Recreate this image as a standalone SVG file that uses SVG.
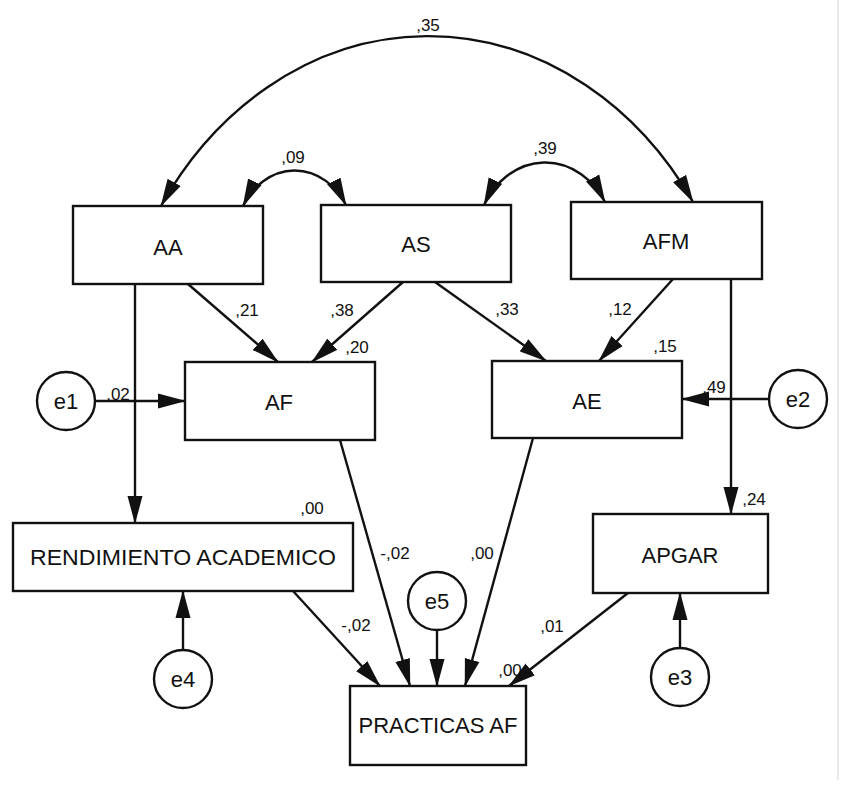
<svg xmlns="http://www.w3.org/2000/svg" width="854" height="789" viewBox="0 0 854 789">
<style>
.box{fill:#fff;stroke:#111;stroke-width:2.4}
.err{fill:#fff;stroke:#111;stroke-width:2.4}
.nt{font-family:"Liberation Sans",Arial,sans-serif;font-size:22px;fill:#111;text-anchor:middle}
.lb{font-family:"Liberation Sans",Arial,sans-serif;font-size:17px;fill:#111;text-anchor:middle}
.ln{fill:none;stroke:#111;stroke-width:2.4}
.arr{marker-end:url(#ah)}
.dbl{marker-start:url(#ahs);marker-end:url(#ah)}
</style>
<defs>
<marker id="ah" markerUnits="userSpaceOnUse" markerWidth="28" markerHeight="16" refX="27" refY="7.5" orient="auto" viewBox="0 0 28 15">
<path d="M0,0 L28,7.5 L0,15 z" fill="#111"/>
</marker>
<marker id="ahs" markerUnits="userSpaceOnUse" markerWidth="28" markerHeight="16" refX="27" refY="7.5" orient="auto-start-reverse" viewBox="0 0 28 15">
<path d="M0,0 L28,7.5 L0,15 z" fill="#111"/>
</marker>
</defs>
<rect x="0" y="0" width="854" height="789" fill="#fff"/>
<line x1="838" y1="0" x2="838" y2="780" stroke="#e2e2e2" stroke-width="1.5"/>

<g id="connectors">
<path class="ln dbl" d="M161,206 A320,378 0 0 1 693,202"/>
<path class="ln dbl" d="M243,206 A60,72 0 0 1 346,205"/>
<path class="ln dbl" d="M484,205 A70,82.5 0 0 1 605,202"/>
<path class="ln arr" d="M135,284 L135,523"/>
<path class="ln arr" d="M188,284 L278,362"/>
<path class="ln arr" d="M403,282 L312,362"/>
<path class="ln arr" d="M435,282 L546,361"/>
<path class="ln arr" d="M673,279 L599,361"/>
<path class="ln arr" d="M731,279 L731,514"/>
<path class="ln arr" d="M95,401 L185,401"/>
<path class="ln arr" d="M769,399 L682,399"/>
<path class="ln arr" d="M340,440 L410,686"/>
<path class="ln arr" d="M533,438 L465,686"/>
<path class="ln arr" d="M437,630 L437,686"/>
<path class="ln arr" d="M293,591 L380,686"/>
<path class="ln arr" d="M628,593 L509,686"/>
<path class="ln arr" d="M183,650 L183,591"/>
<path class="ln arr" d="M680,648 L680,593"/>
</g>

<g id="labels">
<text class="lb" x="428" y="31">,35</text>
<text class="lb" x="293" y="163">,09</text>
<text class="lb" x="545" y="154">,39</text>
<text class="lb" x="247" y="316">,21</text>
<text class="lb" x="342" y="316">,38</text>
<text class="lb" x="357" y="353">,20</text>
<text class="lb" x="118" y="400">,02</text>
<text class="lb" x="507" y="315">,33</text>
<text class="lb" x="620" y="315">,12</text>
<text class="lb" x="665" y="352">,15</text>
<text class="lb" x="714" y="393">,49</text>
<text class="lb" x="312" y="514">,00</text>
<text class="lb" x="395" y="559">-,02</text>
<text class="lb" x="356" y="631">-,02</text>
<text class="lb" x="482" y="559">,00</text>
<text class="lb" x="754" y="505">,24</text>
<text class="lb" x="552" y="632">,01</text>
<text class="lb" x="510" y="676">,00</text>
</g>

<g id="AA"><rect class="box" x="73" y="206" width="190" height="78"/><text class="nt" x="168" y="255">AA</text></g>
<g id="AS"><rect class="box" x="321" y="205" width="190" height="77"/><text class="nt" x="416" y="252">AS</text></g>
<g id="AFM"><rect class="box" x="571" y="202" width="191" height="77"/><text class="nt" x="666" y="249">AFM</text></g>
<g id="AF"><rect class="box" x="185" y="362" width="190" height="78"/><text class="nt" x="279" y="410">AF</text></g>
<g id="AE"><rect class="box" x="492" y="361" width="190" height="77"/><text class="nt" x="587" y="409">AE</text></g>
<g id="RA"><rect class="box" x="13" y="523" width="340" height="68"/><text class="nt" x="183" y="565" textLength="306" lengthAdjust="spacingAndGlyphs">RENDIMIENTO ACADEMICO</text></g>
<g id="APGAR"><rect class="box" x="593" y="514" width="175" height="79"/><text class="nt" x="680" y="563">APGAR</text></g>
<g id="PAF"><rect class="box" x="350" y="686" width="176" height="79"/><text class="nt" x="438" y="733">PRACTICAS AF</text></g>
<g id="e1"><circle class="err" cx="66" cy="401" r="29"/><text class="nt" x="66" y="409">e1</text></g>
<g id="e2"><circle class="err" cx="798" cy="399" r="29"/><text class="nt" x="798" y="407">e2</text></g>
<g id="e3"><circle class="err" cx="680" cy="677" r="29"/><text class="nt" x="680" y="685">e3</text></g>
<g id="e4"><circle class="err" cx="183" cy="679" r="29"/><text class="nt" x="183" y="687">e4</text></g>
<g id="e5"><circle class="err" cx="437" cy="601" r="29"/><text class="nt" x="437" y="609">e5</text></g>
</svg>
